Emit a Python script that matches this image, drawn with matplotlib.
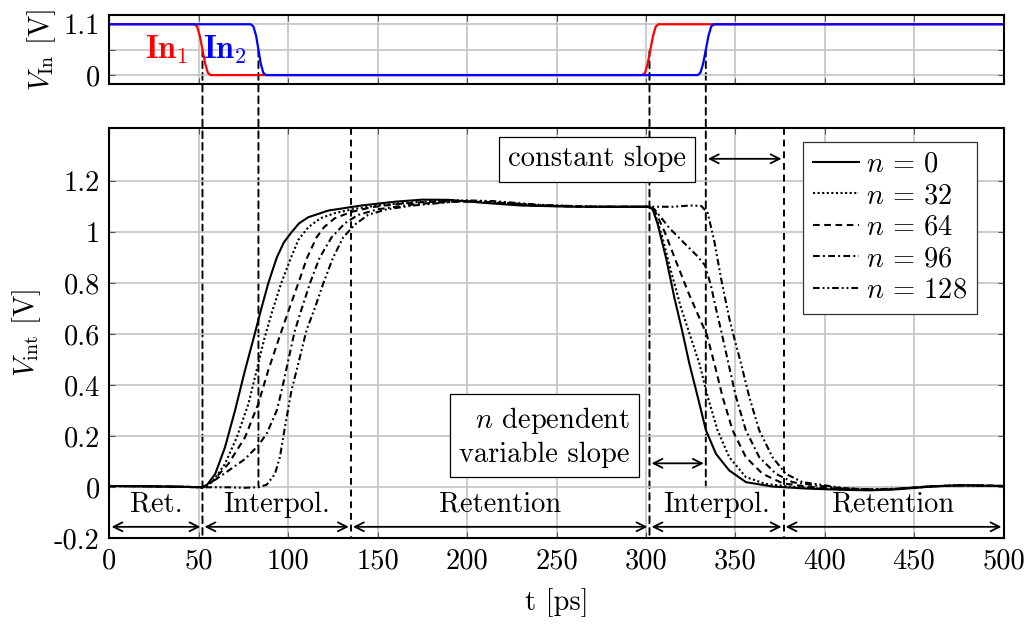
import matplotlib
matplotlib.use("Agg")
import matplotlib.pyplot as plt
from matplotlib.patches import ConnectionPatch

plt.rcParams['font.family'] = 'serif'
plt.rcParams['font.serif'] = ['cmr10']
plt.rcParams['mathtext.fontset'] = 'cm'
plt.rcParams['axes.unicode_minus'] = False
plt.rcParams['font.size'] = 20.5

# ---- input signals (top panel)
in1_t = [0, 47.5, 49, 50.5, 52, 53.5, 55, 56.5, 298, 299.5, 301, 302.5, 304, 305.5, 307, 500]
in1_v = [1.1, 1.1, 1.05, 0.85, 0.55, 0.25, 0.05, 0, 0, 0.05, 0.25, 0.55, 0.85, 1.05, 1.1, 1.1]
in2_t = [0, 79, 80.5, 82, 83.3, 84.6, 86, 87.5, 329, 330.5, 332, 333.5, 335, 336.5, 338, 500]
in2_v = [1.1, 1.1, 1.05, 0.85, 0.55, 0.25, 0.05, 0, 0, 0.05, 0.25, 0.55, 0.85, 1.05, 1.1, 1.1]

# ---- internal node voltage (bottom panel), one series per n
n0_t = [0, 20, 40, 52, 54.4, 59.1, 64.6, 70.2, 75.8, 80.8, 84.5, 88.8, 93.5, 97.5, 101.8, 106,
        111.2, 122.3, 140.9, 160, 175, 190, 210, 230, 260, 302, 303.9, 306.7, 311.3, 316.0,
        320.2, 324.3, 329.0, 333.6, 339.2, 346.6, 356, 370.8, 390, 410, 425, 440, 460, 475, 490, 500]
n0_v = [0.005, 0.004, 0.002, 0.0, 0.008, 0.052, 0.157, 0.301, 0.459, 0.59, 0.69, 0.80, 0.90, 0.96, 1.0, 1.035,
        1.059, 1.085, 1.105, 1.12, 1.128, 1.127, 1.115, 1.105, 1.10, 1.10, 1.088, 1.029, 0.898, 0.741,
        0.616, 0.485, 0.354, 0.223, 0.131, 0.066, 0.020, 0.003, -0.005, -0.01, -0.012, -0.008, 0.003, 0.008, 0.006, 0.005]

n32_t = [0, 20, 40, 52, 53.5, 58.1, 64.6, 71.2, 77.7, 83.2, 86.5, 91, 96, 101.5, 105.6, 111.2, 118, 126,
         137, 150, 165, 180, 195, 215, 240, 270, 302, 304.8, 309.4, 314.1, 319.7, 324.5, 329.9, 334.6,
         340.1, 346.6, 355.9, 367.1, 380.1, 395, 410, 425, 440, 460, 475, 490, 500]
n32_v = [0.005, 0.004, 0.002, 0.0, 0.003, 0.026, 0.092, 0.196, 0.327, 0.485, 0.58, 0.69, 0.80, 0.90, 0.97, 1.02, 1.055, 1.075,
         1.092, 1.105, 1.115, 1.122, 1.125, 1.118, 1.105, 1.10, 1.10, 1.081, 0.976, 0.846, 0.702, 0.60, 0.485, 0.354,
         0.223, 0.118, 0.040, 0.013, 0.003, -0.004, -0.008, -0.01, -0.006, 0.004, 0.008, 0.006, 0.005]

n64_t = [0, 20, 40, 52, 52.6, 57.2, 66.5, 75.8, 83.2, 88.8, 94.6, 100, 105.6, 110.5, 115.8, 120, 126,
         135.3, 146.5, 160, 175, 190, 210, 235, 265, 302, 304.8, 310.4, 316.9, 324.3, 330.8, 334, 338.3,
         342.9, 348.5, 355.9, 365.2, 376.4, 389.4, 405, 420, 440, 460, 480, 500]
n64_v = [0.005, 0.004, 0.002, 0.0, 0.002, 0.020, 0.092, 0.196, 0.327, 0.459, 0.58, 0.69, 0.80, 0.90, 0.98, 1.02, 1.055,
         1.08, 1.098, 1.11, 1.118, 1.122, 1.118, 1.105, 1.10, 1.10, 1.088, 1.003, 0.885, 0.754, 0.650, 0.60, 0.485,
         0.354, 0.223, 0.118, 0.053, 0.016, 0.003, -0.005, -0.01, -0.008, 0.004, 0.008, 0.005]

n96_t = [0, 20, 40, 52, 57.2, 66.5, 75.8, 83.2, 87.9, 91, 93.5, 96, 98.5, 101, 103.5, 107.5, 112.1, 117.5,
         124.2, 131.6, 139, 150, 165, 180, 200, 220, 245, 275, 302, 304.8, 313.2, 322.5, 329, 333.1, 336.4,
         339.2, 342, 345.7, 350.4, 355.9, 363.4, 372.7, 382, 395, 410, 425, 440, 460, 480, 500]
n96_v = [0.005, 0.004, 0.002, 0.0, 0.02, 0.065, 0.111, 0.164, 0.21, 0.26, 0.30, 0.37, 0.45, 0.53, 0.61, 0.70, 0.80, 0.90,
         0.98, 1.035, 1.068, 1.09, 1.105, 1.115, 1.122, 1.115, 1.105, 1.10, 1.10, 1.09, 1.016, 0.95, 0.905, 0.87, 0.79,
         0.70, 0.616, 0.50, 0.354, 0.223, 0.118, 0.053, 0.020, 0.007, -0.004, -0.008, -0.006, 0.004, 0.008, 0.005]

n128_t = [0, 20, 40, 52, 66.5, 75, 83.2, 87.9, 92.5, 95.3, 98.1, 101.8, 105.6, 110.2, 114.9, 119.6, 125,
          130.7, 137.2, 144.6, 155, 170, 185, 200, 215, 240, 270, 302, 315, 325, 331, 334.6, 338.3, 342,
          346.6, 349.6, 353.2, 357.8, 363.4, 370.8, 378.2, 387.6, 396.9, 410, 425, 440, 460, 480, 500]
n128_v = [0.005, 0.004, 0.002, 0.0, 0.0, -0.002, 0.0, 0.01, 0.052, 0.118, 0.236, 0.38, 0.485, 0.616, 0.704, 0.80, 0.90,
          0.98, 1.03, 1.068, 1.09, 1.105, 1.115, 1.125, 1.122, 1.108, 1.10, 1.10, 1.10, 1.105, 1.103, 1.075, 0.963, 0.82,
          0.663, 0.58, 0.485, 0.354, 0.223, 0.118, 0.053, 0.020, 0.011, -0.003, -0.008, -0.006, 0.004, 0.008, 0.005]

labels = [r'$n\,=\,0$', r'$n\,=\,32$', r'$n\,=\,64$', r'$n\,=\,96$', r'$n\,=\,128$']
styles = ['-', (0, (1, 1.2)), (0, (3.2, 2.2)), (0, (3.2, 1.6, 0.9, 1.6)), (0, (3.2, 1.4, 0.9, 1.4, 0.9, 1.4))]

# switching instants (dashed markers)
t_sw1, t_sw2, t_end1 = 52, 83.3, 135
t_sw3, t_sw4, t_end2 = 302, 333.5, 377

xticks = [0, 50, 100, 150, 200, 250, 300, 350, 400, 450, 500]
yticks = [-0.2, 0, 0.2, 0.4, 0.6, 0.8, 1.0, 1.2]
ytick_labels = ['-0.2', '0', '0.2', '0.4', '0.6', '0.8', '1', '1.2']

grid_kw = dict(color='#c4c4c4', lw=1.2)
dash = (0, (3.5, 2.5))

fig = plt.figure(figsize=(10.32, 6.26), dpi=100)
ax1 = fig.add_axes([0.1061, 0.8653, 0.8663, 0.1107])
ax2 = fig.add_axes([0.1061, 0.1401, 0.8663, 0.6559])
for ax in (ax1, ax2):
    ax.set_facecolor('none')
    ax.set_xlim(0, 500)
    ax.set_xticks(xticks)
    ax.grid(True, **grid_kw)
    ax.set_axisbelow(True)
    ax.tick_params(direction='in', length=4, width=0.8, color='#555555', top=True, right=True, pad=7)
    for s in ax.spines.values():
        s.set_linewidth(1.5)

# top panel
ax1.plot(in1_t, in1_v, color='#ff0000', lw=1.6)
ax1.plot(in2_t, in2_v, color='#0000ff', lw=1.6)
ax1.set_ylim(-0.2, 1.3)
ax1.set_yticks([0, 0.55, 1.1])
ax1.set_yticklabels(['0', '', '1.1'])
ax1.set_xticklabels([])
ax1.set_ylabel(r'$V_{\mathrm{In}}$ [V]', labelpad=4)
ax1.text(32, 0.55, r'$\mathbf{In}_\mathbf{1}$', color='#ff0000', ha='center', va='center', fontsize=23)
ax1.text(64.5, 0.55, r'$\mathbf{In}_\mathbf{2}$', color='#0000ff', ha='center', va='center', fontsize=23)

# bottom panel
series = [(n0_t, n0_v), (n32_t, n32_v), (n64_t, n64_v), (n96_t, n96_v), (n128_t, n128_v)]
for (t, v), lab, ls in zip(series, labels, styles):
    ax2.plot(t, v, color='k', lw=1.5, ls=ls, label=lab)
ax2.set_ylim(-0.2, 1.41)
ax2.set_yticks(yticks)
ax2.set_yticklabels(ytick_labels)
ax2.set_xticklabels([str(x) for x in xticks])
ax2.set_xlabel('t [ps]', labelpad=10)
ax2.set_ylabel(r'$V_{\mathrm{int}}$ [V]', labelpad=8)

leg = ax2.legend(loc='upper right', bbox_to_anchor=(0.970, 0.966), borderaxespad=0, fancybox=False,
                 edgecolor='#333333', framealpha=1, handlelength=1.6, handletextpad=0.25,
                 labelspacing=0.18, borderpad=0.35)
leg.get_frame().set_linewidth(0.9)

# dashed lines crossing both panels
for t, yend in [(t_sw1, -0.2), (t_sw2, 0.0), (t_sw3, -0.2), (t_sw4, 0.0)]:
    con = ConnectionPatch(xyA=(t, 0.55), coordsA=ax1.transData, xyB=(t, yend), coordsB=ax2.transData,
                          color='k', lw=1.4, linestyle=dash, zorder=-1)
    fig.add_artist(con)
for t in (t_end1, t_end2):
    ax2.plot([t, t], [1.41, -0.2], color='k', lw=1.4, ls=dash, clip_on=False)

# phase arrows and labels
arr = dict(arrowstyle='<->', lw=1.3, color='k', shrinkA=1.5, shrinkB=1.5, mutation_scale=16)
bounds = [0, t_sw1, t_end1, t_sw3, t_end2, 500]
phase_names = ['Ret.', 'Interpol.', 'Retention', 'Interpol.', 'Retention']
for a, b, name in zip(bounds[:-1], bounds[1:], phase_names):
    ax2.annotate('', xy=(b, -0.155), xytext=(a, -0.155), arrowprops=arr)
    ax2.text((a + b) / 2, -0.068, name, ha='center', va='center')

ax2.annotate('', xy=(t_end2, 1.288), xytext=(t_sw4, 1.288), arrowprops=arr)
ax2.annotate('', xy=(t_sw4, 0.094), xytext=(t_sw3, 0.094), arrowprops=arr)

box = dict(boxstyle='square,pad=0.32', facecolor='white', edgecolor='k', lw=0.9)
ax2.text(272.5, 1.286, 'constant slope', ha='center', va='center', bbox=box, zorder=5)
ax2.text(243.4, 0.199, '$n$ dependent\nvariable slope', ha='center', va='center',
         multialignment='right', bbox=box, zorder=5, linespacing=1.25)

fig.savefig('out.png', dpi=100)
